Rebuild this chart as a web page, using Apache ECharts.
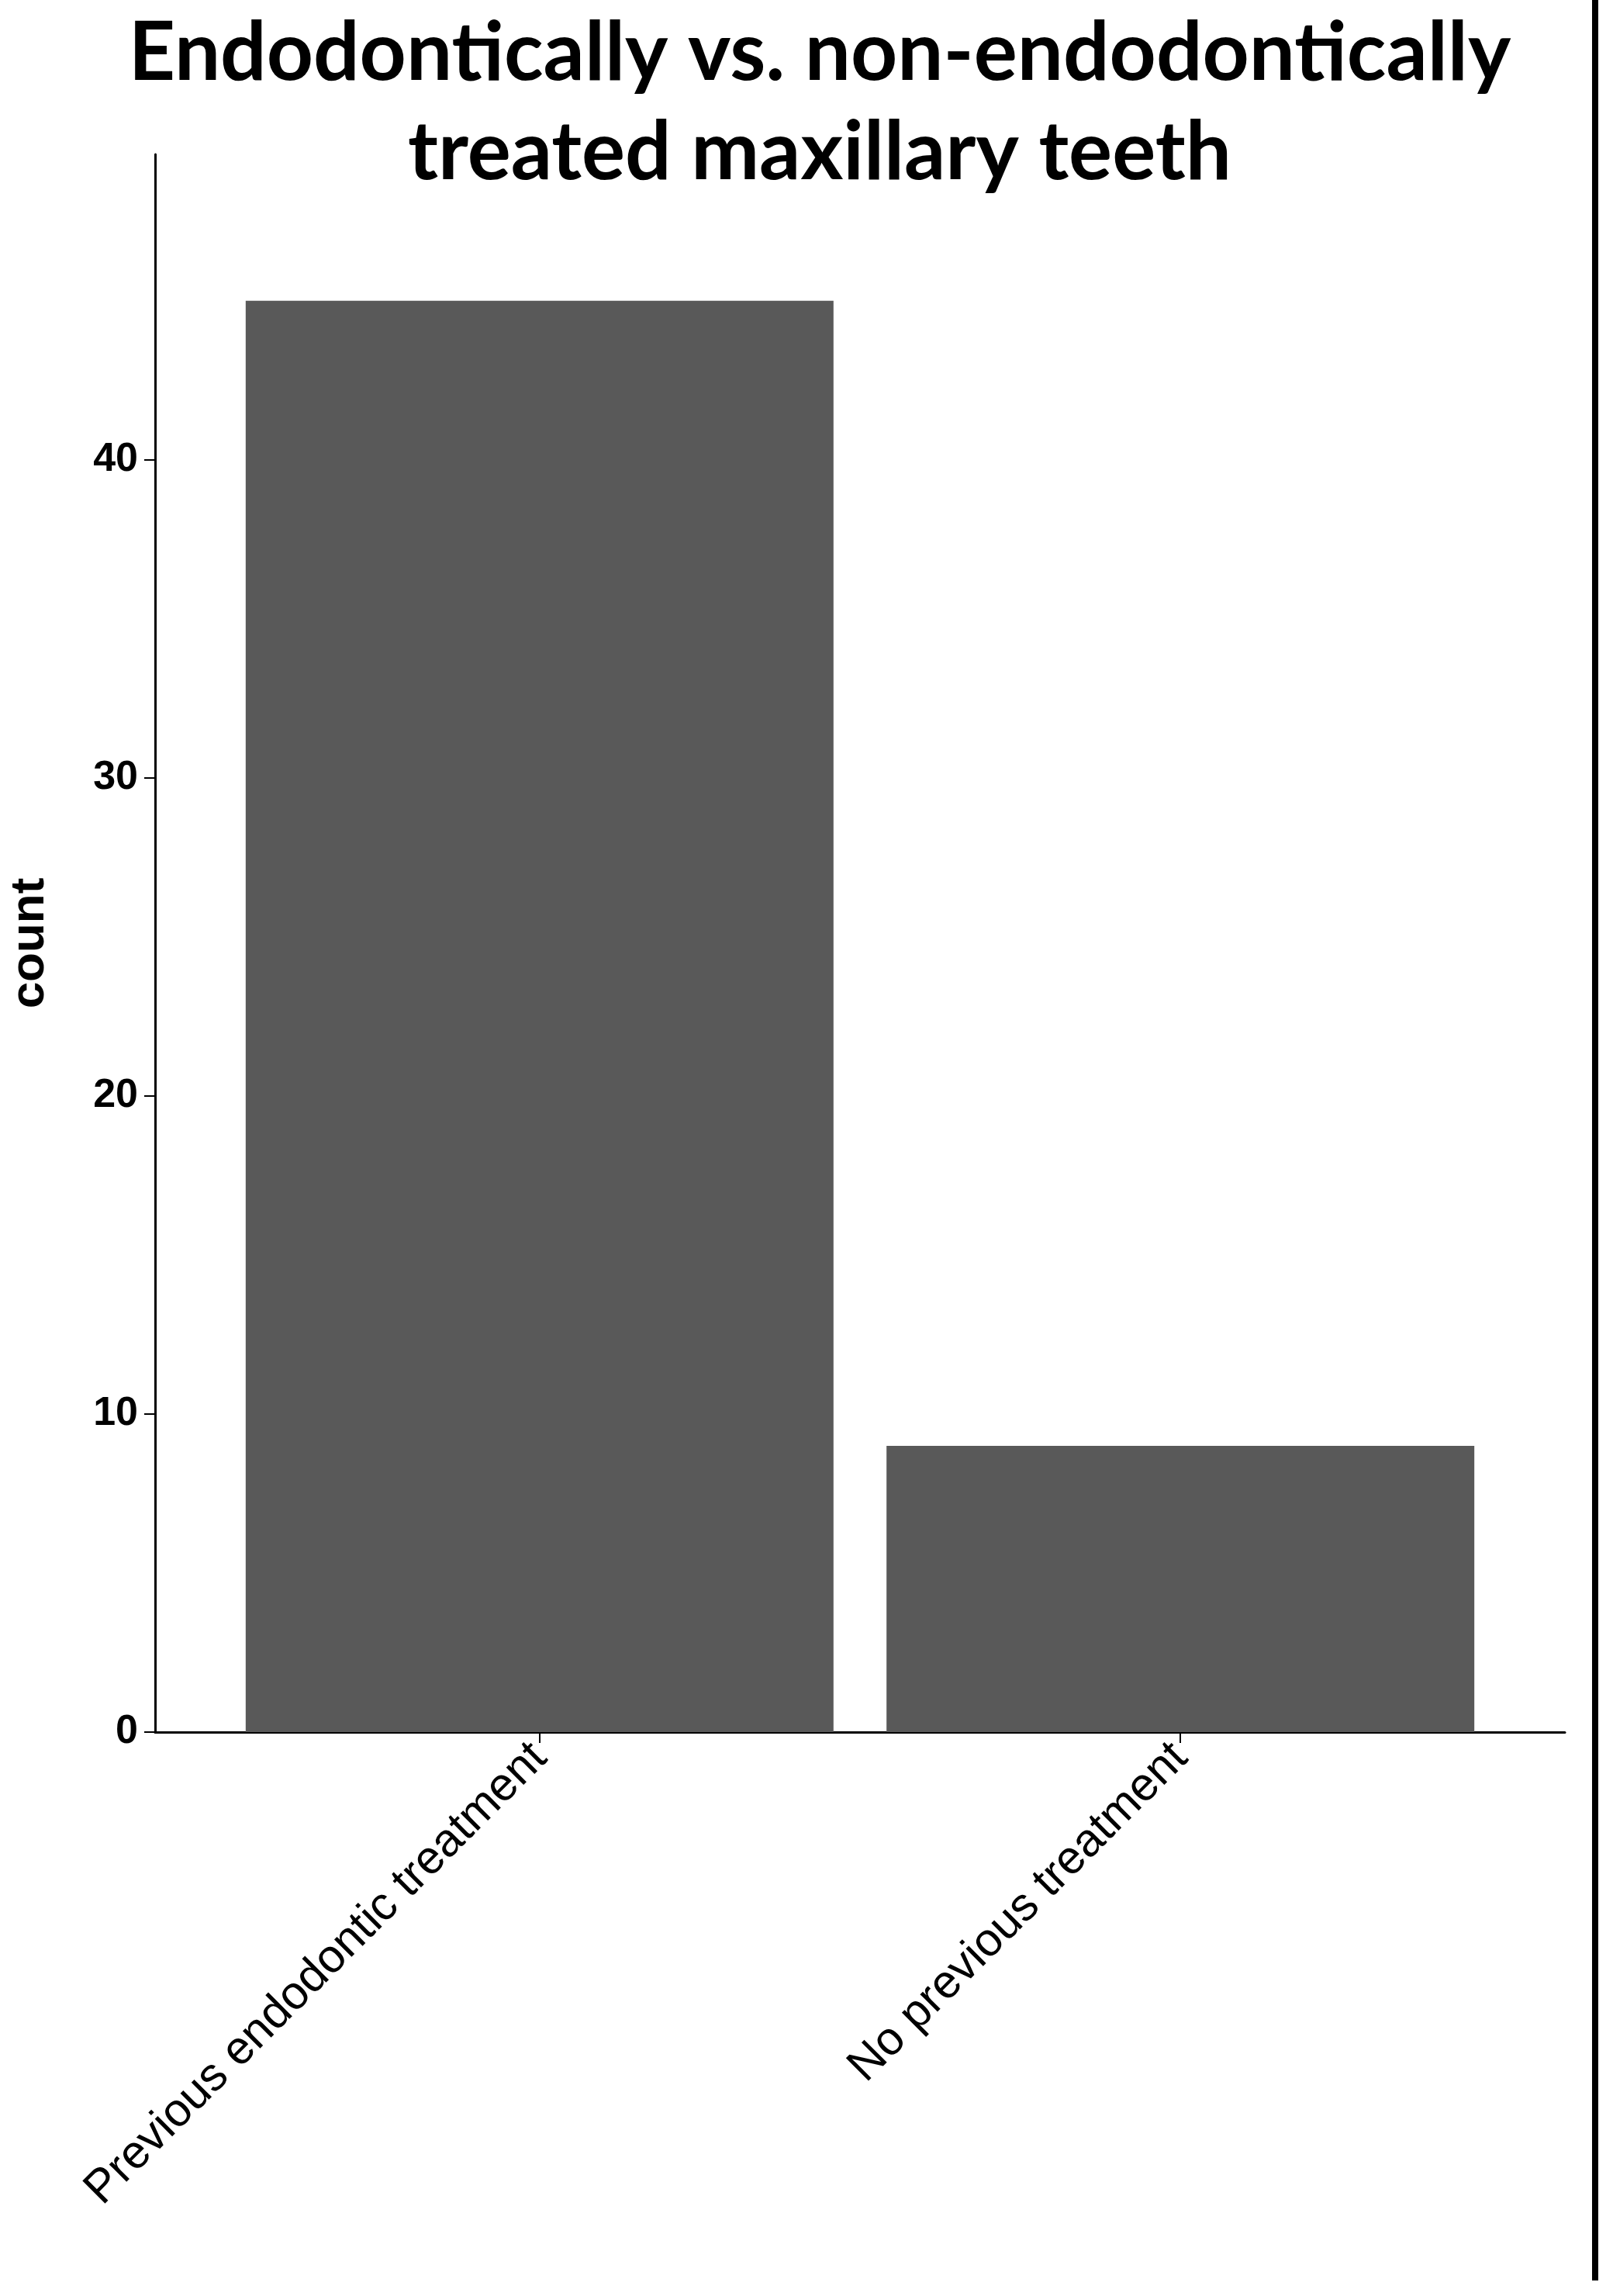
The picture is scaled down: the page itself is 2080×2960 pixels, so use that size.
<!DOCTYPE html>
<html>
<head>
<meta charset="utf-8">
<script src="https://cdn.jsdelivr.net/npm/echarts@6/dist/echarts.min.js"></script>
<style>html,body{margin:0;padding:0;background:#fff}#main{width:2080px;height:2960px}</style>
</head>
<body>
<div id="main"></div>
<script>
// data
var categories = ['Previous endodontic treatment', 'No previous treatment'];
var counts = [45, 9];
var yTicks = [0, 10, 20, 30, 40];

var chart = echarts.init(document.getElementById('main'));
var font = '"Liberation Sans", Arial, sans-serif';

chart.setOption({
    animation: false,
    title: {
        text: 'Endodontically vs. non-endodontically\ntreated maxillary teeth',
        left: 1052, textAlign: 'center', top: 0,
        textStyle: { fontFamily: 'Lato, "Open Sans", sans-serif', fontWeight: 'bold', fontSize: 105, lineHeight: 128, color: '#000' }
    },
    grid: { left: 165, right: 62, top: 199, bottom: 727, containLabel: false },
    xAxis: {
        type: 'value', min: 0.4, max: 2.6, interval: 1,
        splitLine: { show: false },
        axisLine: { show: true, lineStyle: { color: '#000', width: 3 } },
        axisTick: { show: true, length: 14, lineStyle: { color: '#000', width: 2 }, customValues: [1, 2] },
        axisLabel: {
            customValues: [1, 2], rotate: 45, margin: 24,
            fontFamily: font, fontSize: 60, color: '#000',
            formatter: function (v) { return categories[Math.round(v) - 1] || ''; }
        }
    },
    yAxis: {
        type: 'value', min: 0, max: 49.6, name: 'count', nameLocation: 'middle', nameGap: 130,
        nameTextStyle: { fontFamily: font, fontSize: 62, fontWeight: 'bold', color: '#000' },
        splitLine: { show: false },
        axisLine: { show: true, lineStyle: { color: '#000', width: 3 } },
        axisTick: { show: true, length: 14, lineStyle: { color: '#000', width: 2 }, customValues: yTicks },
        axisLabel: { customValues: yTicks, fontFamily: font, fontSize: 52, fontWeight: 'bold', color: '#000', margin: 22 }
    },
    series: [{
        type: 'bar', barWidth: 758,
        itemStyle: { color: '#595959' },
        data: counts.map(function (c, i) { return [i + 1, c]; })
    }],
    graphic: [{
        type: 'rect', left: 2053, top: 0,
        shape: { width: 8, height: 2940 },
        style: { fill: '#000' }
    }]
});
</script>
</body>
</html>
